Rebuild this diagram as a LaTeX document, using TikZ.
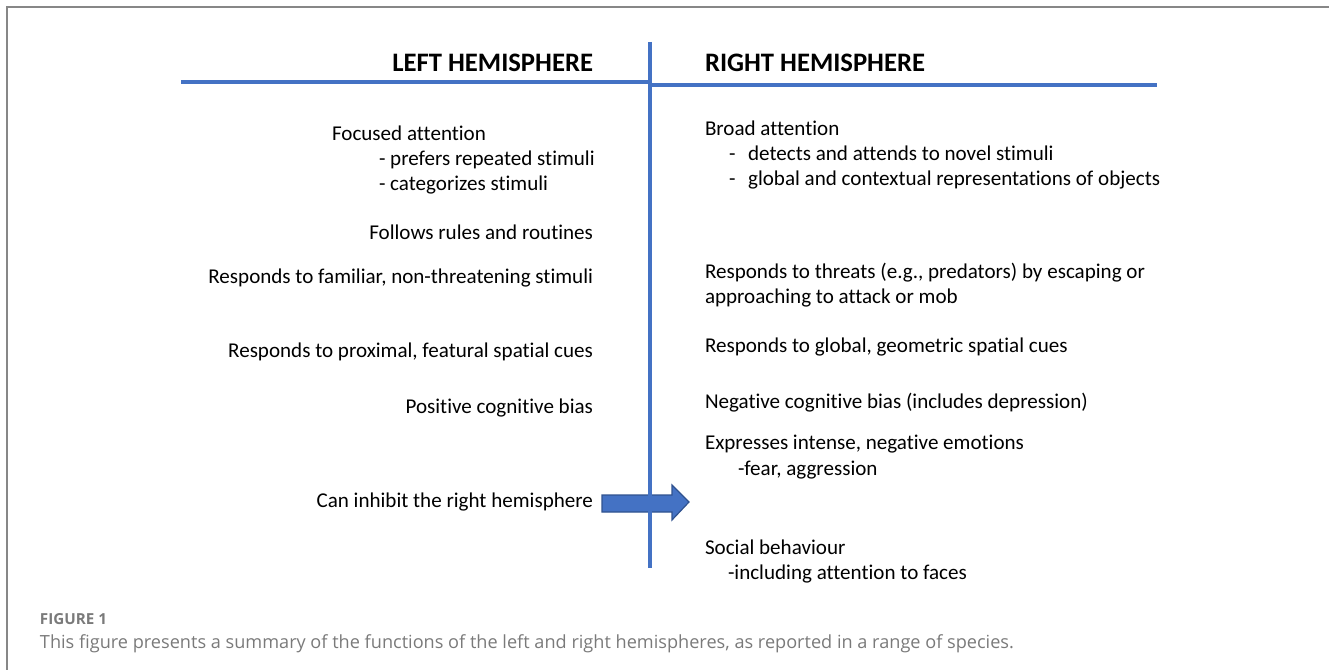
\documentclass[tikz,border=0pt]{standalone}
\usepackage{fontspec}
\setmainfont{Carlito}[Ligatures={NoCommon}]
\newfontfamily\capfont{Open Sans}
\usetikzlibrary{positioning}

\definecolor{hemiblue}{HTML}{4472C4}
\definecolor{hemidark}{HTML}{2F528F}
\definecolor{capgray}{HTML}{7A7A7A}

\begin{document}
\begin{tikzpicture}[
                x=0.75pt, y=-0.75pt,
                every node/.append style={inner sep=0pt,outer sep=0pt,font=\fontsize{15.8}{18}\selectfont},
                lefttxt/.style={anchor=base east},
                righttxt/.style={anchor=base west},
                subtxt/.style={anchor=base west},
                header/.style={font=\fontsize{20}{24}\selectfont\bfseries},
                bar/.style={draw=hemiblue,line width=3pt}
            ]
                \useasboundingbox (0,0) rectangle (1329,670);
                % frame
                \draw[capgray!90,line width=1.5pt] (7,670) -- (7,7) -- (1329,7);

                % headings
                \node (lh) [header,lefttxt]  at (593,72) {LEFT HEMISPHERE};
                \node (rh) [header,righttxt] at (705,72) {RIGHT HEMISPHERE};

                % left hemisphere
                \node (focus)  [righttxt] at (332,141) {Focused attention};
                \node (focusa) [subtxt]   at (379,166) {- prefers repeated stimuli};
                \node (focusb) [subtxt]   at (379,191) {- categorizes stimuli};
                \node (rules)  [lefttxt]  at (593,240) {Follows rules and routines};
                \node (famil)  [lefttxt]  at (593,284) {Responds to familiar, non-threatening stimuli};
                \node (proxi)  [lefttxt]  at (593,358) {Responds to proximal, featural spatial cues};
                \node (posit)  [lefttxt]  at (593,413) {Positive cognitive bias};
                \node (inhib)  [lefttxt]  at (593,508) {Can inhibit the right hemisphere};

                % right hemisphere
                \node (broad)  [righttxt] at (705,136) {Broad attention};
                \node (broada) [subtxt]   at (729,161) {-\hspace{9.5pt}detects and attends to novel stimuli};
                \node (broadb) [subtxt]   at (729,186) {-\hspace{9.5pt}global and contextual representations of objects};
                \node (threat) [righttxt] at (705,279) {Responds to threats (e.g., predators) by escaping or};
                \node (threatb)[righttxt] at (705,304) {approaching to attack or mob};
                \node (geom)   [righttxt] at (705,353) {Responds to global, geometric spatial cues};
                \node (negat)  [righttxt] at (705,409) {Negative cognitive bias (includes depression)};
                \node (emot)   [righttxt] at (705,450) {Expresses intense, negative emotions};
                \node (emota)  [subtxt]   at (738,475) {-fear, aggression};
                \node (social) [righttxt] at (705,554) {Social behaviour};
                \node (sociala)[subtxt]   at (728,579) {-including attention to faces};

                % block arrow
                \draw[fill=hemiblue,draw=hemidark,line width=0.9pt]
                    (602,495) -- (672,495) -- (672,485) -- (689,502) -- (672,520) -- (672,512) -- (602,512) -- cycle;

                % dividing lines
                \draw[bar] (181,82) -- (650,82);
                \draw[bar] (650,85) -- (1157,85);
                \draw[bar] (650,42) -- (650,568);

                % caption
                \node (fig) [righttxt,font=\capfont\fontsize{11.4}{13}\selectfont\bfseries,text=capgray] at (40,624) {FIGURE 1};
                \node (cap) [righttxt,font=\capfont\fontsize{13.6}{16}\selectfont,text=capgray] at (40,648)
                    {This figure presents a summary of the functions of the left and right hemispheres, as reported in a range of species.};
            \end{tikzpicture}
\end{document}
